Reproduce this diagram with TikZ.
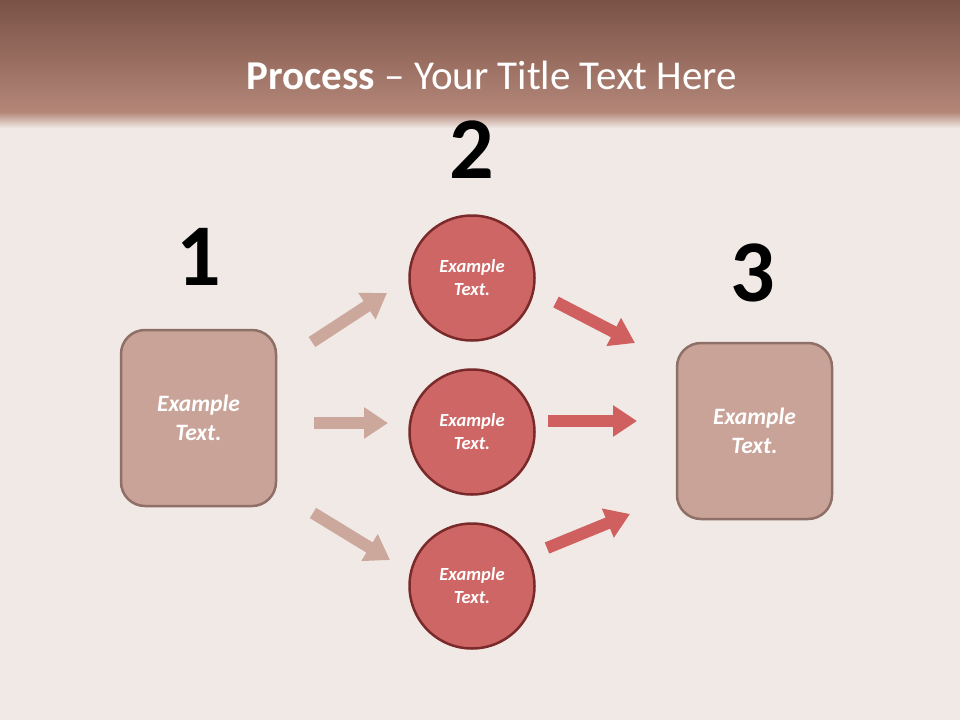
\documentclass[tikz,border=0pt]{standalone}
\usepackage{fontspec}
\setmainfont{Carlito}
\usetikzlibrary{arrows.meta}
\definecolor{bgc}{HTML}{F1E9E5}
\definecolor{bandtop}{HTML}{7A5246}
\definecolor{bandbot}{HTML}{B38678}
\definecolor{boxfill}{HTML}{C9A398}
\definecolor{boxline}{HTML}{8E7068}
\definecolor{circfill}{HTML}{CF6666}
\definecolor{circline}{HTML}{7A2A2A}
\definecolor{arrowA}{HTML}{CCA79C}
\definecolor{arrowB}{HTML}{D0605F}
\begin{document}
\begin{tikzpicture}[x=1pt,y=-1pt,
  stepbox/.style={draw=boxline,line width=2.5pt,fill=boxfill,rounded corners=24pt,
    minimum width=155pt,minimum height=176pt,text=white,align=center,
    font=\fontsize{23.5}{29}\selectfont\bfseries\itshape},
  stepcirc/.style={circle,draw=circline,line width=2.5pt,fill=circfill,minimum size=125pt,
    inner sep=0pt,text=white,align=center,font=\fontsize{18.5}{23}\selectfont\bfseries\itshape},
  numlab/.style={font=\fontsize{88}{88}\selectfont\bfseries,text=black},
  arrA/.style={draw=arrowA,line width=12pt,-{Triangle[width=30pt,length=24pt]}},
  arrB/.style={draw=arrowB,line width=12pt,-{Triangle[width=30pt,length=24pt]}}]
\useasboundingbox (0,0) rectangle (960,720);
% background
\fill[bgc] (0,0) rectangle (960,720);
\shade[top color=bandtop,bottom color=bandbot] (0,0) rectangle (960,112);
\shade[top color=bandbot,bottom color=bgc] (0,112) rectangle (960,128);
% title
\node[text=white,font=\fontsize{41}{43}\selectfont] (title) at (492,75)
  {\textbf{Process} – Your Title Text Here};
% numbers
\node[numlab] (n1) at (199,257) {1};
\node[numlab] (n2) at (472,150) {2};
\node[numlab] (n3) at (753,273) {3};
% shapes
\node[stepbox] (b1) at (198.5,418) {Example\\Text.};
\node[stepbox] (b3) at (754.5,431) {Example\\Text.};
\node[stepcirc] (c1) at (472,278) {Example\\Text.};
\node[stepcirc] (c2) at (472,432) {Example\\Text.};
\node[stepcirc] (c3) at (472,586) {Example\\Text.};
% arrow endpoints
\coordinate (a1s) at (312,342); \coordinate (a1e) at (387,293);
\coordinate (a2s) at (314,423); \coordinate (a2e) at (388,423);
\coordinate (a3s) at (313,513); \coordinate (a3e) at (390,560);
\coordinate (b1s) at (556,302); \coordinate (b1e) at (635,343);
\coordinate (b2s) at (548,421); \coordinate (b2e) at (637,421);
\coordinate (b3s) at (547,548); \coordinate (b3e) at (630,514);
\draw[arrA] (a1s) -- (a1e);
\draw[arrA] (a2s) -- (a2e);
\draw[arrA] (a3s) -- (a3e);
\draw[arrB] (b1s) -- (b1e);
\draw[arrB] (b2s) -- (b2e);
\draw[arrB] (b3s) -- (b3e);
\end{tikzpicture}
\end{document}
